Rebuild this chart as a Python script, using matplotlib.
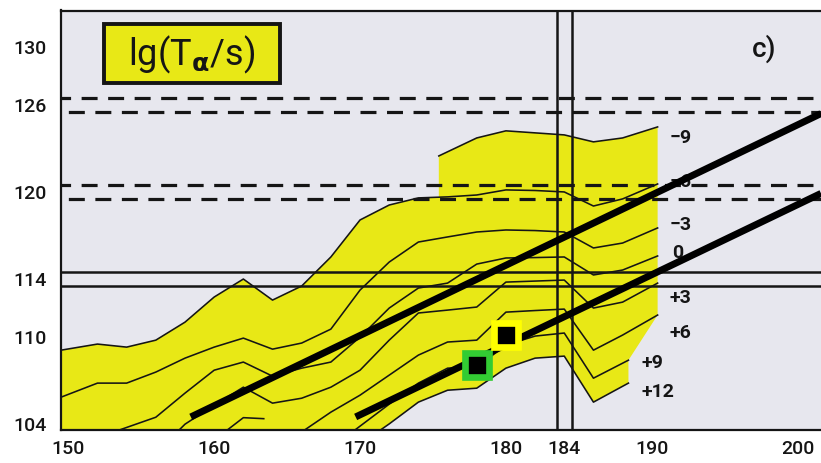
import numpy as np
import matplotlib.pyplot as plt
from matplotlib.patches import Rectangle

plt.rcParams['font.family'] = ['Roboto', 'DejaVu Sans']

# contour lines lg(T_alpha/s), x = Z, y = N
x_m9 = [175.4, 178, 180, 182, 184, 186, 188, 190.4]
y_m9 = [122.48, 123.72, 124.21, 124.07, 123.93, 123.45, 123.72, 124.48]

x_m6 = [149.5, 152, 154, 156, 158, 160, 162, 164, 166, 168, 170, 172, 174, 176, 178, 180, 182, 184, 186, 188, 190.4]
y_m6 = [109.1, 109.52, 109.31, 109.79, 111.03, 112.76, 114.0, 112.55, 113.52, 115.52, 118.07, 119.1, 119.59,
        119.66, 119.79, 120.14, 120.1, 120.0, 119.03, 119.52, 120.55]

x_m3 = x_m6
y_m3 = [105.86, 106.83, 106.83, 107.59, 108.55, 109.31, 109.93, 109.17, 109.59, 110.55, 113.24, 115.17, 116.55,
        116.9, 117.24, 117.38, 117.34, 117.24, 116.14, 116.48, 117.52]

x_0 = [153.5, 156, 158, 160, 162, 164, 166, 168, 170, 172, 174, 176, 178, 180, 182, 184, 186, 188, 190.4]
y_0 = [103.6, 104.48, 106.14, 107.72, 108.28, 107.31, 107.86, 108.28, 110.0, 112.0, 113.38, 113.72, 115.03,
       115.45, 115.48, 115.52, 114.28, 114.62, 115.59]

x_p3 = [157.6, 158, 160, 162, 164, 166, 168, 170, 172, 174, 176, 178, 180, 182, 184, 186, 188, 190.4]
y_p3 = [103.6, 104.0, 105.31, 106.55, 105.45, 105.79, 106.55, 107.72, 109.79, 111.66, 111.86, 112.07, 113.79,
        113.86, 113.93, 112.0, 112.41, 113.72]

x_p6 = [166.2, 168, 170, 172, 174, 176, 178, 180, 182, 184, 186, 188, 190.4]
y_p6 = [103.6, 104.83, 106.0, 107.38, 108.76, 109.66, 109.79, 111.72, 111.83, 111.93, 109.1, 110.14, 111.52]
x_p6b = [160.9, 162, 163.4]
y_p6b = [103.6, 104.45, 104.38]

x_p9 = [169.65, 172, 174, 176, 178, 180, 182, 184, 186, 188.4]
y_p9 = [103.6, 105.38, 106.83, 107.86, 107.93, 109.45, 110.07, 110.28, 107.17, 108.41]

x_p12 = [171.4, 172, 174, 176, 178, 180, 182, 184, 186, 188.4]
y_p12 = [103.6, 104.02, 105.52, 106.34, 106.48, 107.86, 108.55, 108.69, 105.52, 106.83]

contours = [(x_m9, y_m9), (x_m6, y_m6), (x_m3, y_m3), (x_0, y_0), (x_p3, y_p3),
            (x_p6, y_p6), (x_p6b, y_p6b), (x_p9, y_p9), (x_p12, y_p12)]
labels = ['−9', '−6', '−3', '0', '+3', '+6', '+9', '+12']
label_pos = [(191.2, 123.7), (191.2, 120.7), (191.2, 117.7), (191.4, 115.8),
             (191.2, 112.7), (191.2, 110.3), (189.3, 108.2), (189.3, 106.2)]

# reference lines (magic numbers)
n_dashed = [126, 120]
n_solid = [114]
z_solid = [184]

# straight lines and the two nuclei
line1_x, line1_y = [158.4, 201.6], [104.5, 125.4]
line2_x, line2_y = [169.7, 201.6], [104.5, 119.9]
green_pt = (178.0, 108.07)
yellow_pt = (180.0, 110.14)

xticks = [150, 160, 170, 180, 184, 190, 200]
yticks = [104, 110, 114, 120, 126, 130]

xmin, xmax, ymin, ymax = 149.5, 201.6, 103.6, 132.5
yellow = '#e8e816'
ink = '#151515'

fig = plt.figure(figsize=(8.21, 4.63), dpi=100)
ax = fig.add_axes([61 / 821, 33 / 463, 1 - 61 / 821, 419.5 / 463])
ax.set_facecolor('#e7e7ee')

# yellow area: top is -6 then -9, right side goes through the ends of +6 and +9, bottom is +12
top_x = [x for x in x_m6 if x < x_m9[0]] + [x_m9[0]] + x_m9
top_y = [y for x, y in zip(x_m6, y_m6) if x < x_m9[0]] + [np.interp(x_m9[0], x_m6, y_m6)] + y_m9
poly_x = top_x + [x_p6[-1], x_p9[-1]] + x_p12[::-1] + [xmin]
poly_y = top_y + [y_p6[-1], y_p9[-1]] + y_p12[::-1] + [ymin]
ax.fill(poly_x, poly_y, color=yellow, lw=0, zorder=1)

for cx, cy in contours:
    ax.plot(cx, cy, color=ink, lw=1.15, zorder=2)
for lab, (lx, ly) in zip(labels, label_pos):
    ax.text(lx, ly, lab, fontsize=14, fontweight='bold', ha='left', va='center', color=ink, zorder=2)

for n in n_dashed:
    ax.plot([xmin, xmax], [n + 0.5, n + 0.5], color=ink, lw=2.3, linestyle=(2, (5, 3.3)),
            dash_capstyle='butt', zorder=3)
    ax.plot([xmin, xmax], [n - 0.5, n - 0.5], color=ink, lw=2.3, linestyle=(6, (5, 3.3)),
            dash_capstyle='butt', zorder=3)
for n in n_solid:
    ax.axhline(n + 0.5, color=ink, lw=1.8, zorder=3)
    ax.axhline(n - 0.5, color=ink, lw=1.8, zorder=3)
for z in z_solid:
    ax.axvline(z - 0.5, color=ink, lw=1.8, zorder=3)
    ax.axvline(z + 0.5, color=ink, lw=1.8, zorder=3)

ax.plot(line1_x, line1_y, color='black', lw=5, solid_capstyle='butt', zorder=4, clip_on=False)
ax.plot(line2_x, line2_y, color='black', lw=5, solid_capstyle='butt', zorder=4, clip_on=False)

ax.plot(*green_pt, marker='s', ms=17, mfc='black', mec='#33cc33', mew=4.8, zorder=5)
ax.plot(*yellow_pt, marker='s', ms=17, mfc='black', mec='#ffff00', mew=4.8, zorder=5)

# title box
ax.add_patch(Rectangle((0.0566, 0.827), 0.231, 0.141, transform=ax.transAxes, fc=yellow, ec=ink,
                       lw=2.8, zorder=6))
ax.text(0.172, 0.895, r'lg(T$_{\mathbf{\alpha}}$/s)', transform=ax.transAxes, fontsize=26,
        ha='center', va='center', color=ink, zorder=7)
ax.text(0.925, 0.91, 'c)', transform=ax.transAxes, fontsize=20, fontweight='medium', ha='center',
        va='center', color=ink)

ax.set_xlim(xmin, xmax)
ax.set_ylim(ymin, ymax)
ax.set_xticks(xticks)
ax.set_yticks(yticks)
ax.tick_params(length=0, labelsize=14, colors=ink)
ax.tick_params(axis='y', pad=10)
ax.tick_params(axis='x', pad=7)
for t in ax.get_xticklabels() + ax.get_yticklabels():
    t.set_fontweight('medium')
for side in ['left', 'bottom', 'top']:
    ax.spines[side].set_linewidth(1.6)
    ax.spines[side].set_color(ink)
ax.spines['right'].set_visible(False)

fig.savefig('out.png', dpi=100)
